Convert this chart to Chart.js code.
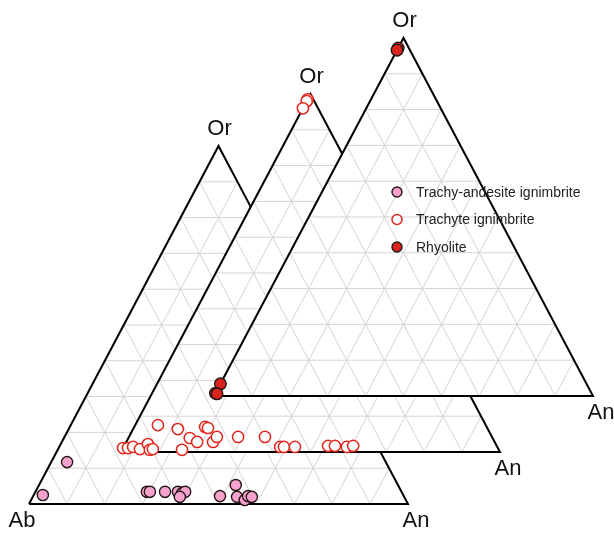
<!DOCTYPE html>
<html>
<head>
<meta charset="utf-8">
<script src="https://cdn.jsdelivr.net/npm/chart.js@4.4.1/dist/chart.umd.min.js"></script>
<style>
  html, body { margin: 0; padding: 0; background: #fff; }
  #wrap { width: 614px; height: 533px; }
</style>
</head>
<body>
<div id="wrap"><canvas id="ternario"></canvas></div>
<script>
// Compositions in %, Ab = 100 - An - Or
const SERIES = ['Trachy-andesite ignimbrite', 'Trachyte ignimbrite', 'Rhyolite'];

const andesiteAn = [2.4, 4.2, 29.4, 30.2, 34.2, 37.6, 38.9, 39.5, 38.8, 49.3, 51.9, 53.9, 56.4, 56.7, 57.8];
const andesiteOr = [2.5, 11.7, 3.4, 3.4, 3.4, 3.4, 3.1, 3.4, 2.0, 2.2, 5.3, 2.0, 1.1, 2.2, 2.0];

const trachyteAn = [0, 1.3, 2.5, 4.6, 6.0, 7.3, 8.0, 6.0, 11.8, 15.8, 16.2, 18.7, 18.7, 19.6, 22.9, 23.2,
                    28.8, 35.9, 41.3, 42.3, 45.2, 53.8, 55.6, 58.9, 60.4, 0, 0, 0];
const trachyteOr = [1.1, 1.1, 1.4, 0.8, 2.2, 0.6, 0.8, 7.5, 6.4, 0.6, 3.9, 2.8, 7.0, 6.7, 2.8, 4.2,
                    4.2, 4.2, 1.4, 1.4, 1.4, 1.7, 1.7, 1.4, 1.7, 98.5, 98.0, 96.0];

const rhyoliteAn = [0, 0, 0.5, 0, 0];
const rhyoliteOr = [3.4, 0.8, 0.6, 97.2, 96.6];

// triangle placement (one side = 1 unit), back triangles shifted up/right
const OFFSETS = [{ x: 0, y: 0 }, { x: 0.2427, y: 0.1453 }, { x: 0.4881, y: 0.3017 }];

const CORES = {
  andesite: '#f7a1cf',
  trachyte: '#e3241b',
  rhyolite: '#d9231f',
  borda: '#231815',
  grade: '#cfcfcf'
};

function ternario(an, or, off) {
  return { x: off.x + an / 100 + or / 200, y: off.y + or / 100 };
}

function pontos(anArr, orArr, off) {
  return anArr.map((an, i) => ternario(an, orArr[i], off));
}

// ── Triângulos ──────────────────────────────────────────────────────────────
function vertices(off) {
  return [ternario(0, 0, off), ternario(100, 0, off), ternario(0, 100, off)];
}

function segmentosContorno(off) {
  const [a, b, c] = vertices(off);
  return [[a, b], [b, c], [c, a]];
}

function segmentosGrade(off) {
  const segs = [];
  for (let i = 10; i < 100; i += 10) {
    segs.push([ternario(0, i, off), ternario(100 - i, i, off)]);
    segs.push([ternario(i, 0, off), ternario(i, 100 - i, off)]);
    segs.push([ternario(100 - i, 0, off), ternario(0, 100 - i, off)]);
  }
  return segs;
}

// pieces of segment p-q lying outside triangle tri (vertices counter-clockwise)
function foraDe(p, q, tri) {
  let t0 = 0, t1 = 1;
  const dx = q.x - p.x, dy = q.y - p.y;
  for (let i = 0; i < 3; i++) {
    const a = tri[i], b = tri[(i + 1) % 3];
    const ex = b.x - a.x, ey = b.y - a.y;
    const num = ex * (p.y - a.y) - ey * (p.x - a.x);
    const den = ex * dy - ey * dx;
    if (Math.abs(den) < 1e-12) {
      if (num < 0) return [[p, q]];
      continue;
    }
    const t = -num / den;
    if (den > 0) t0 = Math.max(t0, t); else t1 = Math.min(t1, t);
  }
  if (t0 >= t1) return [[p, q]];
  const em = t => ({ x: p.x + t * dx, y: p.y + t * dy });
  const partes = [];
  if (t0 > 1e-9) partes.push([p, em(t0)]);
  if (t1 < 1 - 1e-9) partes.push([em(t1), q]);
  return partes;
}

// the triangles in front hide what is behind them
function visiveis(segs, k) {
  let atual = segs;
  OFFSETS.slice(k + 1).forEach(off => {
    const tri = vertices(off);
    atual = atual.flatMap(([p, q]) => foraDe(p, q, tri));
  });
  return atual;
}

function paraDados(segs) {
  const pts = [];
  let ultimo = null;
  segs.forEach(([p, q]) => {
    if (!ultimo || Math.hypot(ultimo.x - p.x, ultimo.y - p.y) > 1e-9) {
      if (ultimo) pts.push({ x: null, y: null });
      pts.push(p);
    }
    pts.push(q);
    ultimo = q;
  });
  return pts;
}

function datasetsTriangulo(k) {
  const off = OFFSETS[k];
  return [
    { data: paraDados(visiveis(segmentosContorno(off), k)), fill: false, borderColor: '#000',
      borderWidth: 2, borderJoinStyle: 'miter', pointRadius: 0, spanGaps: false },
    { data: paraDados(visiveis(segmentosGrade(off), k)), fill: false, borderColor: CORES.grade,
      borderWidth: 0.9, pointRadius: 0, spanGaps: false }
  ];
}

const marcador = { showLine: false, fill: false };
const serieAndesite = {
  ...marcador, label: SERIES[0], data: pontos(andesiteAn, andesiteOr, OFFSETS[0]),
  pointBackgroundColor: CORES.andesite, pointBorderColor: CORES.borda, pointBorderWidth: 1.4, pointRadius: 5.6
};
const serieTrachyte = {
  ...marcador, label: SERIES[1], data: pontos(trachyteAn, trachyteOr, OFFSETS[1]),
  pointBackgroundColor: '#fff', pointBorderColor: CORES.trachyte, pointBorderWidth: 1.5, pointRadius: 5.6
};
const serieRhyolite = {
  ...marcador, label: SERIES[2], data: pontos(rhyoliteAn, rhyoliteOr, OFFSETS[2]),
  pointBackgroundColor: CORES.rhyolite, pointBorderColor: CORES.borda, pointBorderWidth: 1.4, pointRadius: 5.8
};

// ── Rótulos dos vértices e legenda ──────────────────────────────────────────
const rotulos = {
  id: 'rotulos',
  afterDatasetsDraw(chart) {
    const { ctx, scales: { x, y } } = chart;
    const px = p => [x.getPixelForValue(p.x), y.getPixelForValue(p.y)];
    ctx.save();
    ctx.fillStyle = '#111';
    ctx.font = '22px "Liberation Sans", Arial, sans-serif';
    ctx.textAlign = 'center';
    ctx.textBaseline = 'middle';
    OFFSETS.forEach((off, k) => {
      const [ox, oy] = px(ternario(0, 100, off));
      const [nx, ny] = px(ternario(100, 0, off));
      ctx.fillText('Or', ox + 1, oy - 17);
      ctx.fillText('An', nx + 8, ny + 17);
      if (k === 0) {
        const [bx, by] = px(ternario(0, 0, off));
        ctx.fillText('Ab', bx - 7, by + 17);
      }
    });

    // legenda
    const itens = [serieAndesite, serieTrachyte, serieRhyolite];
    ctx.font = '14px "Liberation Sans", Arial, sans-serif';
    ctx.textAlign = 'left';
    itens.forEach((s, i) => {
      const ly = 192 + i * 27.5;
      ctx.beginPath();
      ctx.arc(397, ly, 5, 0, Math.PI * 2);
      ctx.fillStyle = s.pointBackgroundColor;
      ctx.fill();
      ctx.lineWidth = s.pointBorderWidth;
      ctx.strokeStyle = s.pointBorderColor;
      ctx.stroke();
      ctx.fillStyle = '#222';
      ctx.fillText(s.label, 416, ly + 1);
    });
    ctx.restore();
  }
};

// ── Gráfico ─────────────────────────────────────────────────────────────────
new Chart(document.getElementById('ternario'), {
  type: 'line',
  data: {
    datasets: [
      serieRhyolite, serieTrachyte, serieAndesite,
      ...datasetsTriangulo(2),
      ...datasetsTriangulo(1),
      ...datasetsTriangulo(0)
    ]
  },
  options: {
    responsive: true,
    maintainAspectRatio: false,
    animation: false,
    events: [],
    layout: { padding: 0, autoPadding: false },
    plugins: {
      legend: { display: false },
      tooltip: { enabled: false }
    },
    scales: {
      x: { type: 'linear', display: false, min: -29 / 379, max: 585 / 379 },
      y: { type: 'linear', display: false, min: -29 / 358, max: 504 / 358 }
    }
  },
  plugins: [rotulos]
});
</script>
</body>
</html>
